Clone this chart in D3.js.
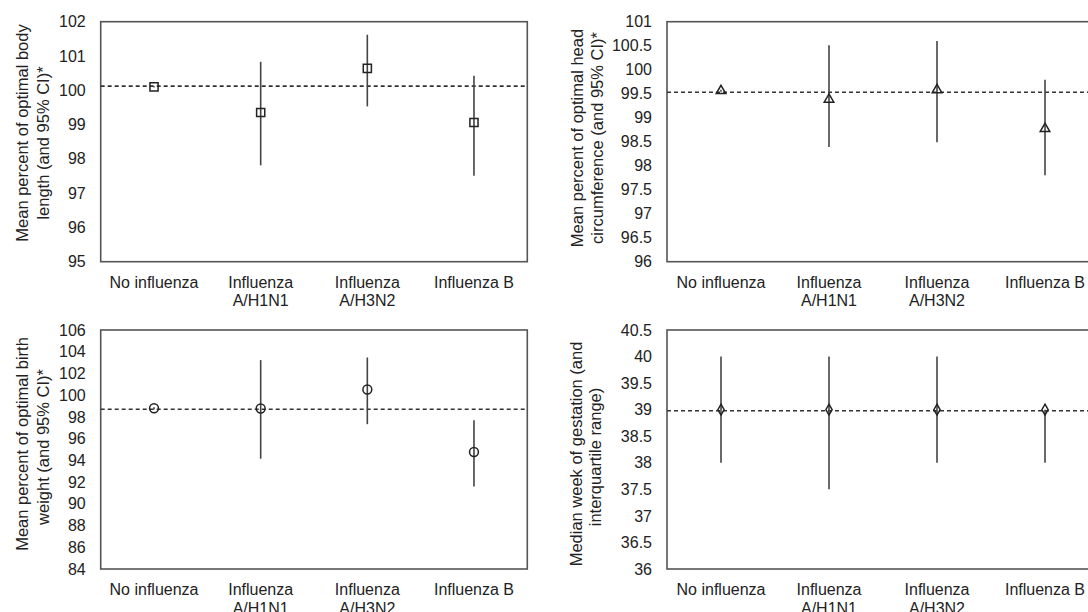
<!DOCTYPE html>
<html lang="en">
<head>
<meta charset="UTF-8">
<title>influenza outcomes</title>
<script src="https://cdn.jsdelivr.net/npm/d3@7"></script>
<style>
    html, body { margin: 0; padding: 0; background: #fff; }
    #chart { width: 1088px; height: 612px; overflow: hidden; }
    text { font-family: "Liberation Sans", Arial, sans-serif; fill: #222; }
</style>
</head>
<body>
<div id="chart"></div>
<script>
    // categories (line breaks as in the picture)
    const categories = ["No influenza", "Influenza\nA/H1N1", "Influenza\nA/H3N2", "Influenza B"];

    // body length
    const lengthMean = [100.1, 99.35, 100.64, 99.06];
    const lengthLow = [100.08, 97.81, 99.53, 97.51];
    const lengthHigh = [100.12, 100.83, 101.62, 100.42];
    const lengthRef = 100.12;
    const lengthTicks = [95, 96, 97, 98, 99, 100, 101, 102];

    // head circumference
    const headMean = [99.56, 99.38, 99.58, 98.77];
    const headLow = [99.54, 98.39, 98.49, 97.8];
    const headHigh = [99.58, 100.51, 100.6, 99.79];
    const headRef = 99.53;
    const headTicks = [96, 96.5, 97, 97.5, 98, 98.5, 99, 99.5, 100, 100.5, 101];

    // birth weight
    const weightMean = [98.8, 98.77, 100.52, 94.77];
    const weightLow = [98.7, 94.15, 97.33, 91.6];
    const weightHigh = [98.9, 103.23, 103.47, 97.7];
    const weightRef = 98.7;
    const weightTicks = [84, 86, 88, 90, 92, 94, 96, 98, 100, 102, 104, 106];

    // gestation week (median and IQR)
    const gestMedian = [39, 39, 39, 39];
    const gestLow = [38, 37.5, 38, 38];
    const gestHigh = [40, 40, 40, 39];
    const gestRef = 38.98;
    const gestTicks = [36, 36.5, 37, 37.5, 38, 38.5, 39, 39.5, 40, 40.5];

    const panels = [
        { mean: lengthMean, low: lengthLow, high: lengthHigh, ref: lengthRef, ticks: lengthTicks,
          box: { l: 100.7, r: 527.3, t: 21.7, b: 261.7 }, marker: "square",
          title: ["Mean percent of optimal body", "length (and 95% CI)*"], titleX: [28, 49], titleY: [133, 143] },
        { mean: headMean, low: headLow, high: headHigh, ref: headRef, ticks: headTicks,
          box: { l: 667, r: 1099, t: 21.7, b: 261.7 }, marker: "triangle",
          title: ["Mean percent of optimal head", "circumference  (and 95% CI)*"], titleX: [583, 603], titleY: [138, 138] },
        { mean: weightMean, low: weightLow, high: weightHigh, ref: weightRef, ticks: weightTicks,
          box: { l: 100.7, r: 527.3, t: 330, b: 569 }, marker: "circle",
          title: ["Mean percent of optimal birth", "weight (and 95% CI)*"], titleX: [28, 49], titleY: [444, 447] },
        { mean: gestMedian, low: gestLow, high: gestHigh, ref: gestRef, ticks: gestTicks,
          box: { l: 667, r: 1099, t: 330, b: 569 }, marker: "diamond",
          title: ["Median week of gestation (and", "interquartile range)"], titleX: [582, 601], titleY: [454, 457] }
    ];

    const symbols = {
        square: d3.symbol().type(d3.symbolSquare).size(66),
        triangle: d3.symbol().type(d3.symbolTriangle).size(40),
        circle: d3.symbol().type(d3.symbolCircle).size(62),
        diamond: d3.symbol().type(d3.symbolDiamond).size(34)
    };

    let draw = () => {
        let svg = d3.select("#chart").append("svg")
            .attr("width", 1088)
            .attr("height", 612);

        panels.forEach(p => {
            let g = svg.append("g");
            let box = p.box;

            let x = d3.scaleBand()
                .domain(categories)
                .range([box.l, box.r]);
            let y = d3.scaleLinear()
                .domain([p.ticks[0], p.ticks[p.ticks.length - 1]])
                .range([box.b, box.t]);

            // frame
            g.append("rect")
                .attr("x", box.l).attr("y", box.t)
                .attr("width", box.r - box.l).attr("height", box.b - box.t)
                .attr("fill", "none")
                .attr("stroke", "#555")
                .attr("stroke-width", 1.6);

            // y axis labels only
            let yAxis = d3.axisLeft(y).tickValues(p.ticks).tickSize(0).tickPadding(15)
                .tickFormat(d3.format("~g"));
            let ya = g.append("g")
                .attr("transform", "translate(" + box.l + ",0)")
                .call(yAxis);
            ya.select(".domain").remove();
            ya.selectAll("text").attr("font-size", 16).attr("font-family", null).attr("fill", "#222");

            // x axis labels (two-line)
            let xAxis = d3.axisBottom(x).tickSize(0).tickPadding(0).tickFormat("");
            let xa = g.append("g")
                .attr("transform", "translate(0," + box.b + ")")
                .call(xAxis);
            xa.select(".domain").remove();
            xa.selectAll(".tick").each(function (d) {
                let t = d3.select(this).append("text")
                    .attr("text-anchor", "middle")
                    .attr("font-size", 16)
                    .attr("y", 26);
                d.split("\n").forEach((line, i) => {
                    t.append("tspan").attr("x", 0).attr("dy", i ? 18.5 : 0).text(line);
                });
            });

            // reference line
            g.append("line")
                .attr("x1", box.l).attr("x2", box.r)
                .attr("y1", y(p.ref)).attr("y2", y(p.ref))
                .attr("stroke", "#333")
                .attr("stroke-width", 1.6)
                .attr("stroke-dasharray", "4,3");

            // error bars
            g.selectAll(".bar")
                .data(categories)
                .enter()
                .append("line")
                .attr("class", "bar")
                .attr("x1", d => x(d) + x.bandwidth() / 2)
                .attr("x2", d => x(d) + x.bandwidth() / 2)
                .attr("y1", (d, i) => y(p.low[i]))
                .attr("y2", (d, i) => y(p.high[i]))
                .attr("stroke", "#444")
                .attr("stroke-width", 1.6);

            // markers
            g.selectAll(".pt")
                .data(categories)
                .enter()
                .append("path")
                .attr("class", "pt")
                .attr("d", symbols[p.marker])
                .attr("transform", (d, i) => "translate(" + (x(d) + x.bandwidth() / 2) + "," + y(p.mean[i]) + ")")
                .attr("fill", "none")
                .attr("stroke", "#222")
                .attr("stroke-width", 1.5);

            // y title
            p.title.forEach((line, i) => {
                g.append("text")
                    .attr("transform", "translate(" + p.titleX[i] + "," + p.titleY[i] + ") rotate(-90)")
                    .attr("text-anchor", "middle")
                    .attr("font-size", 16.5)
                    .text(line);
            });
        });
    };
    draw();
</script>
</body>
</html>
